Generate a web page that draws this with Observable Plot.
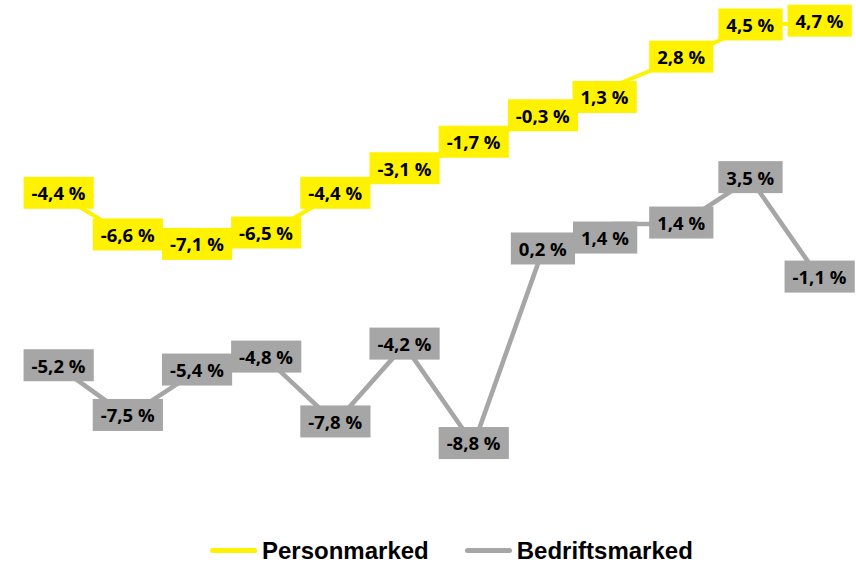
<!DOCTYPE html>
<html>
<head>
<meta charset="utf-8">
<script src="https://cdn.jsdelivr.net/npm/d3@7"></script>
<script src="https://cdn.jsdelivr.net/npm/@observablehq/plot@0.6"></script>
<style>
  html, body { margin: 0; padding: 0; background: #fff; }
  #chart { width: 856px; height: 564px; position: relative; overflow: hidden; }
  #legend {
    font-family: "Liberation Sans", Arial, sans-serif;
    font-weight: bold; font-size: 24px; line-height: 28px; color: #000;
    padding-top: 17px; padding-left: 210px; white-space: nowrap;
  }
  .sw { display: inline-block; width: 47px; height: 5px; border-radius: 2.5px; vertical-align: middle; margin-right: 5px; position: relative; top: -2px; }
  .item2 { margin-left: 36px; }
</style>
</head>
<body>
<div id="chart"></div>
<script>
// Data
const periods = [1, 2, 3, 4, 5, 6, 7, 8, 9, 10, 11, 12];
const personmarked = [-4.4, -6.6, -7.1, -6.5, -4.4, -3.1, -1.7, -0.3, 1.3, 2.8, 4.5, 4.7];
const bedriftsmarked = [-5.2, -7.5, -5.4, -4.8, -7.8, -4.2, -8.8, 0.2, 1.4, 1.4, 3.5, -1.1];
const seriesNames = ["Personmarked", "Bedriftsmarked"];

// Primary (Personmarked) and secondary (Bedriftsmarked) hidden value axes
const primaryDomain = [-19, 5];
const secondaryDomain = [-10, 11];
const toPrimary = d3.scaleLinear().domain(secondaryDomain).range(primaryDomain);

const YELLOW = "#FFF200";
const GRAY = "#A6A6A6";

const pData = periods.map((p, i) => ({p, v: personmarked[i], y: personmarked[i]}));
const bData = periods.map((p, i) => ({p, v: bedriftsmarked[i], y: toPrimary(bedriftsmarked[i])}));
const fmt = v => v.toFixed(1).replace(".", ",") + " %";

// The 9th label of each series was nudged off its point in the original
const moved = 8;
const textStyle = {fontFamily: "'Open Sans', sans-serif", fontWeight: "bold", fontSize: 18.5, fill: "#000"};

const plot = Plot.plot({
  width: 856,
  height: 520,
  margin: 0,
  x: {domain: [1, 12], range: [58, 819], axis: null},
  y: {domain: primaryDomain, range: [470, 16], axis: null},
  marks: [
    Plot.line(pData, {x: "p", y: "y", stroke: YELLOW, strokeWidth: 4, strokeLinejoin: "round"}),
    Plot.line(bData, {x: "p", y: "y", stroke: GRAY, strokeWidth: 4.6, strokeLinejoin: "round"}),
    Plot.text(pData, {x: "p", y: "y", text: d => fmt(d.v), filter: (d, i) => i !== moved, ...textStyle}),
    Plot.text(pData, {x: "p", y: "y", text: d => fmt(d.v), filter: (d, i) => i === moved, dx: -7.5, dy: 12, ...textStyle}),
    Plot.text(bData, {x: "p", y: "y", text: d => fmt(d.v), filter: (d, i) => i !== moved, ...textStyle}),
    Plot.text(bData, {x: "p", y: "y", text: d => fmt(d.v), filter: (d, i) => i === moved, dx: -7, dy: 15, ...textStyle})
  ]
});

const chart = document.getElementById("chart");
chart.appendChild(plot);

// Legend below the SVG
const legend = document.createElement("div");
legend.id = "legend";
legend.innerHTML =
  `<span class="sw" style="background:${YELLOW}"></span>${seriesNames[0]}` +
  `<span class="sw item2" style="background:${GRAY}"></span>${seriesNames[1]}`;
chart.appendChild(legend);

// Label background boxes, sized to each label's text
const textGroups = Array.from(plot.querySelectorAll("text")).map(t => t.parentNode)
  .filter((g, i, a) => a.indexOf(g) === i && g.tagName.toLowerCase() === "g");
const colors = [YELLOW, YELLOW, GRAY, GRAY];
textGroups.forEach((g, gi) => {
  Array.from(g.querySelectorAll("text")).forEach(t => {
    const bb = t.getBBox();
    const r = document.createElementNS("http://www.w3.org/2000/svg", "rect");
    r.setAttribute("x", bb.x - 8);
    r.setAttribute("width", bb.width + 16);
    r.setAttribute("height", 32);
    r.setAttribute("fill", colors[gi] || GRAY);
    const tr = t.getAttribute("transform");
    if (tr) {
      r.setAttribute("transform", tr);
      r.setAttribute("y", -17.5);
    } else {
      const ty = +(t.getAttribute("y") || 0);
      r.setAttribute("y", ty - 17.5);
    }
    g.insertBefore(r, t);
  });
});
</script>
</body>
</html>
